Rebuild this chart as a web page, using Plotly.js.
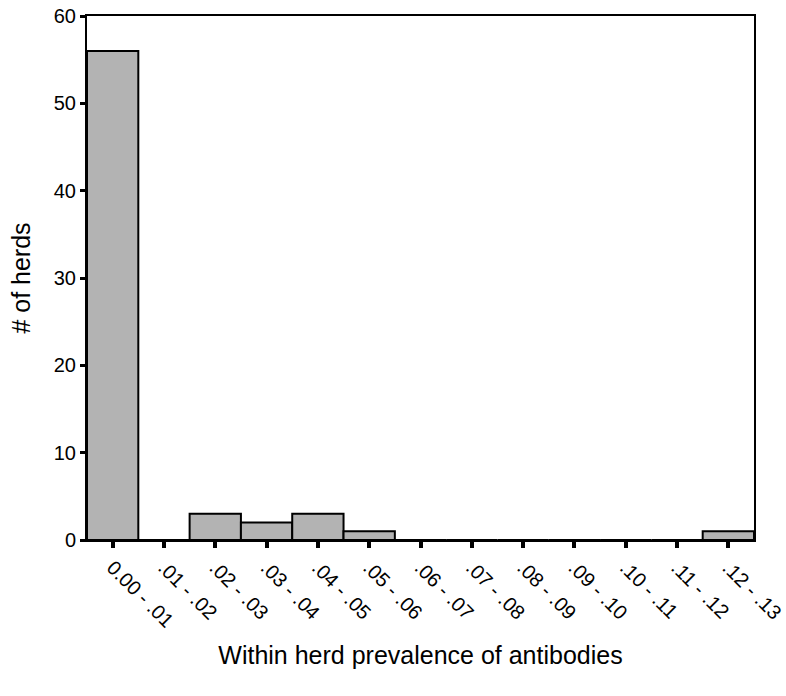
<!DOCTYPE html>
<html>
<head>
<meta charset="utf-8">
<script src="https://cdn.plot.ly/plotly-3.0.1.min.js"></script>
<style>
  html, body { margin: 0; padding: 0; background: #fff; }
  #plot { width: 786px; height: 696px; }
</style>
</head>
<body>
<div id="plot"></div>
<script>
// prevalence bins and herd counts
let bins = [".00 - .01", ".01 - .02", ".02 - .03", ".03 - .04", ".04 - .05", ".05 - .06", ".06 - .07",
            ".07 - .08", ".08 - .09", ".09 - .10", ".10 - .11", ".11 - .12", ".12 - .13"];
let binLabels = ["0.00 - .01", ".01 - .02", ".02 - .03", ".03 - .04", ".04 - .05", ".05 - .06", ".06 - .07",
                 ".07 - .08", ".08 - .09", ".09 - .10", ".10 - .11", ".11 - .12", ".12 - .13"];
let herds = [56, 0, 3, 2, 3, 1, 0, 0, 0, 0, 0, 0, 1];
let yTicks = [0, 10, 20, 30, 40, 50, 60];

let trace = {
    x: bins,
    y: herds,
    type: "bar",
    marker: {
        color: "#b3b3b3",
        line: {color: "#000", width: 2}
    },
    hoverinfo: "x+y"
};

let layout = {
    width: 786,
    height: 696,
    margin: {l: 87, r: 32, t: 16, b: 156},
    paper_bgcolor: "#fff",
    plot_bgcolor: "#fff",
    bargap: 0,
    showlegend: false,
    font: {family: "Liberation Sans, Arial, sans-serif", color: "#000", size: 20},
    xaxis: {
        title: {text: "Within herd prevalence of antibodies", font: {size: 25}, standoff: 16},
        tickvals: bins,
        ticktext: binLabels,
        tickangle: 45,
        ticks: "outside",
        ticklen: 6,
        tickwidth: 4,
        tickcolor: "#000",
        showline: true,
        linecolor: "#000",
        linewidth: 2,
        mirror: true,
        showgrid: false,
        zeroline: false,
        tickfont: {size: 20}
    },
    yaxis: {
        title: {text: "# of herds", font: {size: 25}, standoff: 16},
        range: [0, 60],
        tickvals: yTicks,
        ticks: "outside",
        ticklen: 5,
        tickwidth: 3,
        tickcolor: "#000",
        showline: true,
        linecolor: "#000",
        linewidth: 2,
        mirror: true,
        showgrid: false,
        zeroline: false,
        tickfont: {size: 20}
    }
};

Plotly.newPlot("plot", [trace], layout, {displayModeBar: false, staticPlot: true});
</script>
</body>
</html>
